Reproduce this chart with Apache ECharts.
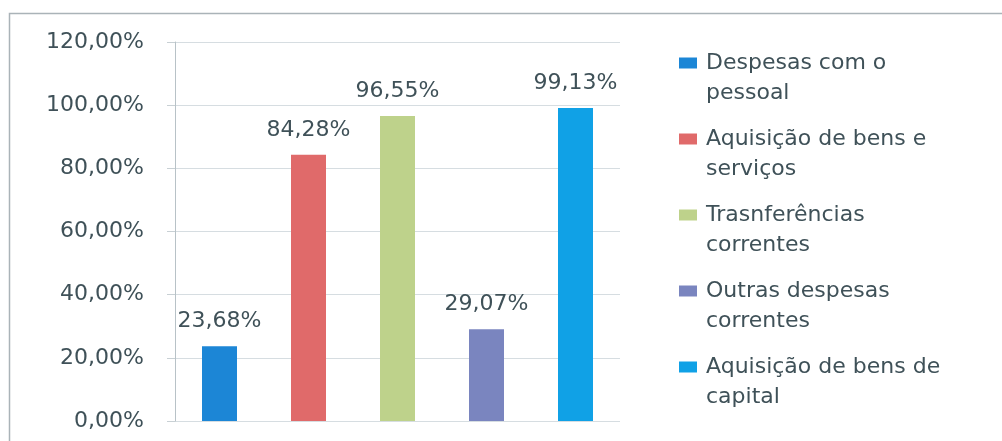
<!DOCTYPE html>
<html>
<head>
<meta charset="utf-8">
<script src="https://cdn.jsdelivr.net/npm/echarts@6/dist/echarts.min.js"></script>
<style>
html,body{margin:0;padding:0;background:#fff;}
#chart{width:1002px;height:441px;}
</style>
</head>
<body>
<div id="chart"></div>
<script>
var categories = ['Despesas com o pessoal', 'Aquisição de bens e serviços', 'Trasnferências correntes', 'Outras despesas correntes', 'Aquisição de bens de capital'];
var legendLabels = ['Despesas com o\npessoal', 'Aquisição de bens e\nserviços', 'Trasnferências\ncorrentes', 'Outras despesas\ncorrentes', 'Aquisição de bens de\ncapital'];
var values = [23.68, 84.28, 96.55, 29.07, 99.13];
var colors = ['#1c86d6', '#e06a6a', '#bed28b', '#7a85bf', '#10a1e6'];
var yTicks = [0, 20, 40, 60, 80, 100, 120];

var textColor = '#3f5158';
var fontFamily = '"DejaVu Sans", Verdana, sans-serif';

function fmt(v) { return v.toFixed(2).replace('.', ',') + '%'; }

var series = categories.map(function (name, i) {
  return {
    name: name,
    type: 'bar',
    barWidth: 35,
    barGap: '-100%',
    itemStyle: { color: colors[i] },
    label: {
      show: true,
      position: 'top',
      distance: 14,
      color: textColor,
      fontFamily: fontFamily,
      fontSize: 22,
      formatter: function (p) { return fmt(p.value); }
    },
    data: categories.map(function (c, j) { return j === i ? values[i] : null; })
  };
});

var chart = echarts.init(document.getElementById('chart'), null, { renderer: 'canvas' });
chart.setOption({
  animation: false,
  backgroundColor: '#fff',
  grid: { left: 175, right: 382, top: 42, bottom: 20, containLabel: false },
  xAxis: {
    type: 'category',
    data: categories,
    axisLine: { show: false },
    axisTick: { show: false },
    axisLabel: { show: false }
  },
  yAxis: {
    type: 'value',
    min: yTicks[0],
    max: yTicks[yTicks.length - 1],
    interval: 20,
    axisLine: { show: true, lineStyle: { color: '#b8c2c7', width: 1 } },
    axisTick: { show: true, length: 8, lineStyle: { color: '#c8d0d4' } },
    splitLine: { show: true, lineStyle: { color: '#d6dde1', width: 1 } },
    axisLabel: {
      margin: 31,
      color: textColor,
      fontFamily: fontFamily,
      fontSize: 22,
      formatter: function (v) { return fmt(v); }
    }
  },
  legend: {
    orient: 'vertical',
    left: 674,
    top: 43,
    itemWidth: 22,
    itemHeight: 41,
    itemGap: 16,
    icon: 'path://M0,0L18,0L18,11L0,11Z M22,41L22,41',
    selectedMode: false,
    data: categories,
    formatter: function (name) { return legendLabels[categories.indexOf(name)]; },
    textStyle: {
      color: textColor,
      fontFamily: fontFamily,
      fontSize: 22,
      lineHeight: 30
    }
  },
  graphic: [
    {
      type: 'polyline',
      silent: true,
      shape: { points: [[9.5, 441], [9.5, 13.5], [1002, 13.5]] },
      style: { stroke: '#aab3b8', lineWidth: 1.5, fill: null }
    }
  ],
  series: series
});
</script>
</body>
</html>
